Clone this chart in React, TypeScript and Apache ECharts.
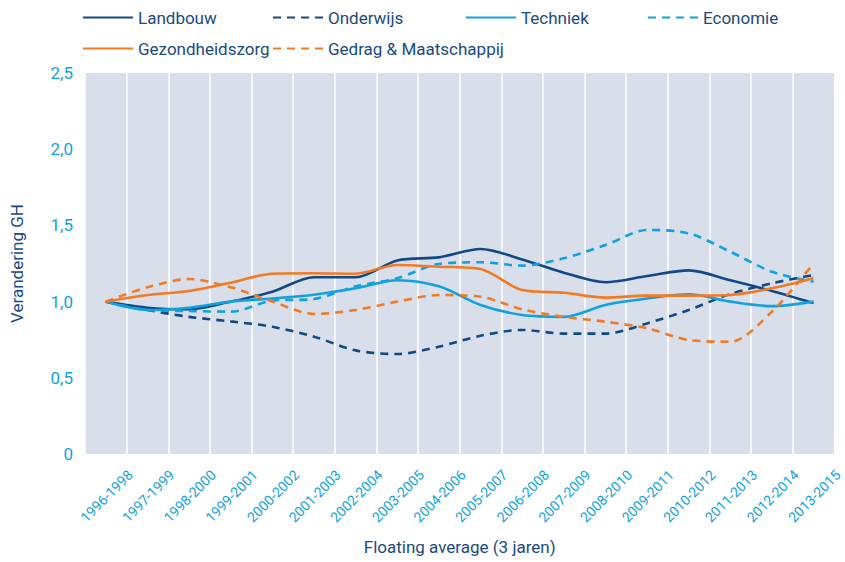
import React, { useEffect, useRef } from "react";
import * as echarts from "echarts";

const categories = [
  "1996-1998", "1997-1999", "1998-2000", "1999-2001", "2000-2002", "2001-2003",
  "2002-2004", "2003-2005", "2004-2006", "2005-2007", "2006-2008", "2007-2009",
  "2008-2010", "2009-2011", "2010-2012", "2011-2013", "2012-2014", "2013-2015",
];

const landbouw = [1.0, 0.96, 0.95, 1.0, 1.065, 1.16, 1.16, 1.27, 1.29, 1.345, 1.277, 1.19, 1.127, 1.168, 1.205, 1.14, 1.07, 0.99];
const onderwijs = [1.0, 0.945, 0.9, 0.87, 0.835, 0.77, 0.68, 0.656, 0.704, 0.776, 0.814, 0.79, 0.79, 0.857, 0.945, 1.05, 1.12, 1.175];
const techniek = [1.0, 0.945, 0.96, 1.0, 1.02, 1.045, 1.087, 1.14, 1.1, 0.978, 0.912, 0.9, 0.978, 1.02, 1.048, 1.0, 0.97, 1.0];
const economie = [1.0, 0.945, 0.938, 0.934, 1.006, 1.017, 1.1, 1.153, 1.247, 1.258, 1.236, 1.284, 1.371, 1.47, 1.448, 1.327, 1.196, 1.13];
const gezondheidszorg = [1.0, 1.043, 1.07, 1.124, 1.183, 1.186, 1.183, 1.24, 1.229, 1.214, 1.076, 1.058, 1.026, 1.039, 1.039, 1.043, 1.087, 1.153];
const gedrag = [1.0, 1.094, 1.148, 1.094, 1.0, 0.919, 0.945, 1.0, 1.043, 1.032, 0.949, 0.9, 0.868, 0.825, 0.748, 0.737, 0.934, 1.251];

const NAVY = "#0f4a86";
const CYAN = "#10a2df";
const ORANGE = "#f47a22";
const TEXT_NAVY = "#1b4a7f";
const FONT = 'Roboto, "DejaVu Sans Condensed", sans-serif';

const seriesDefs = [
  { name: "Landbouw", data: landbouw, color: NAVY, dashed: false, left: 82, top: 9 },
  { name: "Onderwijs", data: onderwijs, color: NAVY, dashed: true, left: 272, top: 9 },
  { name: "Techniek", data: techniek, color: CYAN, dashed: false, left: 465, top: 9 },
  { name: "Economie", data: economie, color: CYAN, dashed: true, left: 647, top: 9 },
  { name: "Gezondheidszorg", data: gezondheidszorg, color: ORANGE, dashed: false, left: 82, top: 40 },
  { name: "Gedrag & Maatschappij", data: gedrag, color: ORANGE, dashed: true, left: 272, top: 40 },
];

export default function App() {
  const ref = useRef<HTMLDivElement>(null);
  useEffect(() => {
    if (!ref.current) return;
    const chart = echarts.init(ref.current, undefined, { renderer: "svg" });
    chart.setOption({
      animation: false,
      backgroundColor: "#ffffff",
      textStyle: { fontFamily: FONT },
      grid: {
        left: 84, right: 7, top: 73, bottom: 108,
        show: true, backgroundColor: "#d8deea", borderWidth: 0,
      },
      legend: seriesDefs.map((s) => ({
        data: [s.name],
        left: s.left,
        top: s.top,
        padding: 0,
        itemWidth: 50,
        itemHeight: 14,
        itemGap: 0,
        itemStyle: { color: "rgba(0,0,0,0)", borderWidth: 0, opacity: 0 },
        textStyle: { color: TEXT_NAVY, fontSize: 17, fontFamily: FONT },
      })),
      xAxis: [
        {
          type: "category",
          data: categories,
          boundaryGap: true,
          axisLine: { show: false },
          axisTick: { show: false },
          axisLabel: { show: false, interval: 0 },
          splitLine: { show: true, interval: 0, lineStyle: { color: "#ffffff", width: 1.5 } },
          name: "Floating average (3 jaren)",
          nameLocation: "middle",
          nameGap: 84,
          nameTextStyle: { color: TEXT_NAVY, fontSize: 17, fontFamily: FONT },
        },
        {
          type: "value",
          position: "bottom",
          min: 0,
          max: categories.length,
          interval: 1,
          axisLine: { show: false },
          axisTick: { show: false },
          splitLine: { show: false },
          axisLabel: {
            rotate: 45,
            color: CYAN,
            fontSize: 14,
            fontFamily: FONT,
            margin: 22,
            padding: [0, -5, 0, 0],
            showMinLabel: true,
            showMaxLabel: true,
            formatter: (v: number) => categories[Math.round(v) - 1] ?? "",
          },
        },
      ],
      yAxis: {
        type: "value",
        min: 0,
        max: 2.5,
        interval: 0.5,
        axisLine: { show: false },
        axisTick: { show: false },
        splitLine: { show: false },
        axisLabel: {
          color: CYAN,
          fontSize: 17,
          fontFamily: FONT,
          margin: 12,
          formatter: (v: number) => (v === 0 ? "0" : v.toFixed(1).replace(".", ",")),
        },
        name: "Verandering GH",
        nameLocation: "middle",
        nameGap: 60,
        nameTextStyle: { color: TEXT_NAVY, fontSize: 17, fontFamily: FONT },
      },
      series: seriesDefs.map((s) => ({
        name: s.name,
        type: "line",
        xAxisIndex: 0,
        data: s.data,
        smooth: 0.3,
        symbol: "none",
        showSymbol: false,
        lineStyle: {
          color: s.color,
          width: 2.6,
          type: s.dashed ? [8, 6] : "solid",
        },
        itemStyle: { color: s.color },
      })),
    });
    return () => chart.dispose();
  }, []);
  return (
    <div
      ref={ref}
      style={{ position: "fixed", left: 0, top: 0, width: 845, height: 562 }}
    />
  );
}
